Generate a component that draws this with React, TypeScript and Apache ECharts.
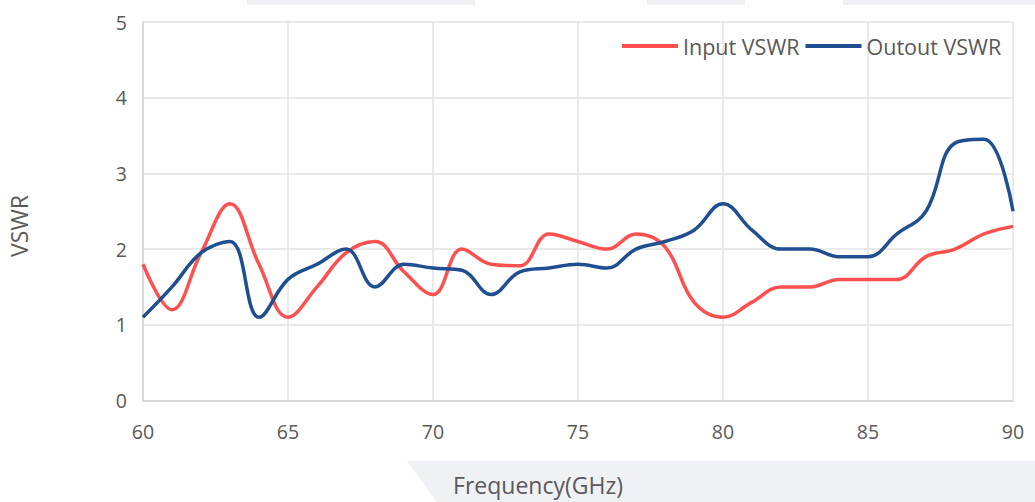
import React, { useEffect, useRef } from "react";
import * as echarts from "echarts";

const freqs = [60,61,62,63,64,65,66,67,68,69,70,71,72,73,74,75,76,77,78,79,80,81,82,83,84,85,86,87,88,89,90];
const inputVswr = [1.8,1.2,1.95,2.6,1.8,1.1,1.5,1.95,2.1,1.7,1.4,2.0,1.8,1.78,2.2,2.1,2.0,2.2,2.03,1.3,1.1,1.3,1.5,1.5,1.6,1.6,1.6,1.9,2.0,2.2,2.3];
const outputVswr = [1.1,1.5,1.95,2.1,1.1,1.6,1.8,2.0,1.5,1.8,1.75,1.72,1.4,1.7,1.75,1.8,1.75,2.0,2.1,2.25,2.6,2.25,2.0,2.0,1.9,1.9,2.2,2.5,3.4,3.45,2.5];
const seriesNames = ["Input VSWR", "Outout VSWR"];

const FONT = "'Open Sans', sans-serif";
const TXT = "#595959";

export default function App() {
  const ref = useRef<HTMLDivElement>(null);
  useEffect(() => {
    if (!ref.current) return;
    const chart = echarts.init(ref.current, null, { renderer: "svg" });
    chart.setOption({
      animation: false,
      backgroundColor: "#ffffff",
      textStyle: { fontFamily: FONT },
      grid: { left: 143, right: 22, top: 22, bottom: 101.5, containLabel: false },
      legend: {
        left: 617,
        top: 30,
        icon: "rect",
        itemWidth: 56,
        itemHeight: 4,
        itemGap: 6,
        textStyle: { fontFamily: FONT, fontSize: 21.5, color: TXT },
        data: seriesNames,
      },
      graphic: [
        { type: "rect", z: -10, shape: { x: 247, y: 0, width: 228, height: 5 }, style: { fill: "#eff0f4" } },
        { type: "rect", z: -10, shape: { x: 647, y: 0, width: 98, height: 5 }, style: { fill: "#eff0f4" } },
        { type: "rect", z: -10, shape: { x: 843, y: 0, width: 192, height: 5 }, style: { fill: "#eff0f4" } },
        { type: "polygon", z: -10, shape: { points: [[407, 461], [1035, 461], [1035, 502], [437, 502]] }, style: { fill: "#f0f1f5" } },
        { type: "text", x: 538, y: 485, style: { text: "Frequency(GHz)", fontFamily: FONT, fontSize: 23, fill: TXT, textAlign: "center", textVerticalAlign: "middle" } },
        { type: "text", x: 19, y: 226, rotation: Math.PI / 2, style: { text: "VSWR", fontFamily: FONT, fontSize: 23, fill: TXT, textAlign: "center", textVerticalAlign: "middle" } },
      ],
      xAxis: {
        type: "value",
        min: 60,
        max: 90,
        interval: 5,
        axisLine: { show: true, lineStyle: { color: "#d9d9d9", width: 2 } },
        axisTick: { show: false },
        axisLabel: { color: TXT, fontSize: 19.5, fontFamily: FONT, margin: 21 },
        splitLine: { show: true, lineStyle: { color: "#e3e3e3", width: 1.5 } },
      },
      yAxis: {
        type: "value",
        min: 0,
        max: 5,
        interval: 1,
        axisLine: { show: true, lineStyle: { color: "#d9d9d9", width: 2 } },
        axisTick: { show: false },
        axisLabel: { color: TXT, fontSize: 19.5, fontFamily: FONT, margin: 16 },
        splitLine: { show: true, lineStyle: { color: "#e3e3e3", width: 1.5 } },
      },
      series: [
        {
          name: seriesNames[0],
          type: "line",
          data: freqs.map((f, i) => [f, inputVswr[i]]),
          smooth: 0.4,
          showSymbol: false,
          symbol: "none",
          lineStyle: { color: "#ff5050", width: 3.5 },
          itemStyle: { color: "#ff5050" },
        },
        {
          name: seriesNames[1],
          type: "line",
          data: freqs.map((f, i) => [f, outputVswr[i]]),
          smooth: 0.4,
          showSymbol: false,
          symbol: "none",
          lineStyle: { color: "#1f4e91", width: 3.5 },
          itemStyle: { color: "#1f4e91" },
        },
      ],
    });
    return () => chart.dispose();
  }, []);
  return <div ref={ref} style={{ position: "fixed", left: 0, top: 0, width: 1035, height: 502 }} />;
}
